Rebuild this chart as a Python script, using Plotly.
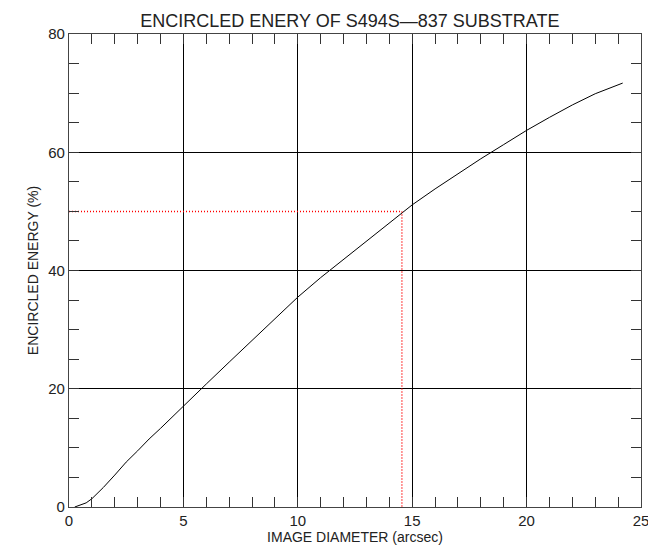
import plotly.graph_objects as go

# Encircled energy curve
diameter = [0.25, 0.5, 0.75, 1.0, 1.5, 2.0, 2.5, 3.0, 3.5, 4.0, 5.0, 6.0, 7.0, 8.0, 9.0, 10.0,
            11.0, 12.0, 13.0, 14.0, 15.0, 16.0, 17.0, 18.0, 19.0, 20.0, 21.0, 22.0,
            23.0, 24.0, 24.2]
energy = [0.0, 0.3, 0.7, 1.4, 3.3, 5.4, 7.6, 9.5, 11.5, 13.3, 17.1, 20.8, 24.5, 28.2, 31.9, 35.5,
          38.8, 41.9, 45.0, 48.1, 51.1, 53.8, 56.4, 58.9, 61.3, 63.7, 65.9, 68.0,
          69.9, 71.4, 71.7]

# 50% marker
half_x = [0.0, 14.55, 14.55]
half_y = [50.0, 50.0, 0.0]

title = "ENCIRCLED ENERY OF S494S\u2014837 SUBSTRATE"
x_title = "IMAGE DIAMETER (arcsec)"
y_title = "ENCIRCLED ENERGY (%)"

FONT = "Liberation Sans"

fig = go.Figure()
fig.add_trace(go.Scatter(x=diameter, y=energy, mode="lines",
                         line=dict(color="black", width=1), hoverinfo="skip"))
fig.add_trace(go.Scatter(x=half_x, y=half_y, mode="lines",
                         line=dict(color="#ff0000", width=1.5, dash="1px,2px"), hoverinfo="skip"))

axis_common = dict(
    showline=True, linecolor="#444444", linewidth=1.2, mirror="allticks",
    showgrid=True, gridcolor="black", gridwidth=1,
    ticks="inside", ticklen=10, tickcolor="#333333", tickwidth=1,
    zeroline=False, ticklabeloverflow="allow", automargin=False,
    tickfont=dict(family=FONT, size=15, color="#222222"),
)

fig.update_layout(
    width=648, height=548,
    margin=dict(l=69, r=7, t=34, b=41),
    paper_bgcolor="white", plot_bgcolor="white",
    showlegend=False,
    title=dict(text=title, x=0.54, xanchor="center", y=1 - 21 / 548, yanchor="middle",
               font=dict(family=FONT, size=18, color="#222222")),
    xaxis=dict(range=[0, 25], tickvals=[0, 5, 10, 15, 20, 25],
               minor=dict(dtick=1, tick0=0, ticks="inside", ticklen=10, tickcolor="#333333", showgrid=False),
               title=dict(text=x_title, standoff=2, font=dict(family=FONT, size=14, color="#222222")),
               **axis_common),
    yaxis=dict(range=[0, 80], tickvals=[0, 20, 40, 60, 80],
               minor=dict(dtick=5, tick0=0, ticks="inside", ticklen=10, tickcolor="#333333", showgrid=False),
               title=dict(text=y_title, standoff=6, font=dict(family=FONT, size=14, color="#222222")),
               **axis_common),
)

fig.write_html("out.html")
